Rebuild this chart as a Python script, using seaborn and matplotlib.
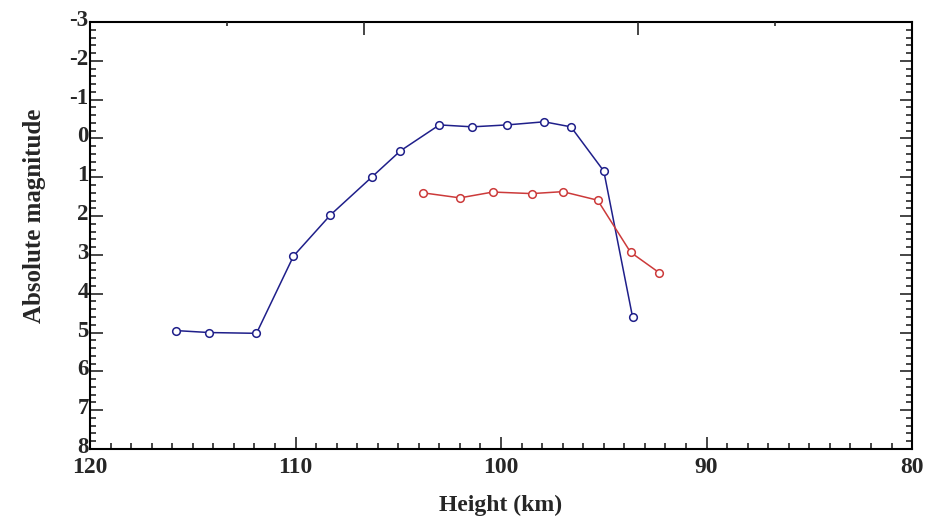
import numpy as np
import pandas as pd
import matplotlib
matplotlib.use("Agg")
import matplotlib.pyplot as plt
import matplotlib.transforms as mtransforms
import seaborn as sns
from matplotlib.ticker import MultipleLocator

# Data
blue_height = [115.8, 114.2, 111.9, 110.1, 108.3, 106.3, 104.9, 103.0, 101.4, 99.7, 97.9, 96.6, 95.0, 93.6]
blue_mag = [4.95, 5.0, 5.02, 3.03, 1.97, 1.0, 0.32, -0.35, -0.30, -0.35, -0.43, -0.30, 0.84, 4.6]
red_height = [103.8, 102.0, 100.4, 98.5, 97.0, 95.3, 93.7, 92.3]
red_mag = [1.40, 1.53, 1.38, 1.42, 1.37, 1.59, 2.93, 3.46]

x_ticks = [120, 110, 100, 90, 80]
y_ticks = [-3, -2, -1, 0, 1, 2, 3, 4, 5, 6, 7, 8]
top_major_ticks = [106.67, 93.33]
top_minor_ticks = [113.33, 86.67]

sns.set_style("ticks")
plt.rcParams['font.family'] = ['Liberation Serif', 'DejaVu Serif']
plt.rcParams['axes.unicode_minus'] = False

fig = plt.figure(figsize=(9.32, 5.25), dpi=100)
ax = fig.add_axes([0.0966, 0.1448, 0.882, 0.8132])

df_b = pd.DataFrame({"h": blue_height, "m": blue_mag})
df_r = pd.DataFrame({"h": red_height, "m": red_mag})

sns.lineplot(data=df_b, x="h", y="m", sort=False, ax=ax, color="#1f1f8a", lw=1.1,
             marker="o", markersize=5.5, markerfacecolor="white", markeredgecolor="#1f1f8a",
             markeredgewidth=1.1)
sns.lineplot(data=df_r, x="h", y="m", sort=False, ax=ax, color="#cc3a3a", lw=1.1,
             marker="o", markersize=5.5, markerfacecolor="white", markeredgecolor="#cc3a3a",
             markeredgewidth=1.1)

ax.set_xlim(120, 80)
ax.set_ylim(8, -3)
ax.set_xticks(x_ticks)
ax.set_yticks(y_ticks)
ax.xaxis.set_minor_locator(MultipleLocator(1))
ax.yaxis.set_minor_locator(MultipleLocator(0.2))
ax.set_xticklabels([str(v) for v in x_ticks])
ax.set_yticklabels([str(v) for v in y_ticks])

for s in ax.spines.values():
    s.set_linewidth(1.5)
    s.set_color("black")

ax.tick_params(axis="x", which="major", direction="in", length=9, width=1.2,
               labelsize=17, pad=6, top=False)
ax.tick_params(axis="x", which="minor", direction="in", length=4.5, width=1.2, top=False)
ax.tick_params(axis="y", which="major", direction="in", length=9, width=1.2,
               labelsize=16.5, pad=1, right=True)
ax.tick_params(axis="y", which="minor", direction="in", length=4.5, width=1.2, right=True)
for lab in ax.get_xticklabels() + ax.get_yticklabels():
    lab.set_fontweight("bold")

# y tick labels sit slightly above their ticks in the reference
shift = mtransforms.ScaledTranslation(0, 4 / 100, fig.dpi_scale_trans)
for lab in ax.get_yticklabels():
    lab.set_transform(lab.get_transform() + shift)

ax2 = ax.twiny()
ax2.set_xlim(120, 80)
ax2.set_xticks(top_major_ticks)
ax2.set_xticks(top_minor_ticks, minor=True)
ax2.set_xticklabels([])
ax2.tick_params(axis="x", which="major", direction="in", length=9, width=1.2, top=True)
ax2.tick_params(axis="x", which="minor", direction="in", length=3, width=1.2, top=True)
for s in ax2.spines.values():
    s.set_visible(False)

ax.set_xlabel("Height (km)", fontsize=17, fontweight="bold", labelpad=12)
ax.set_ylabel("Absolute magnitude", fontsize=18, fontweight="bold", labelpad=10)
ax.yaxis.set_label_coords(-0.054, 0.545)

fig.savefig("out.png", dpi=100)
